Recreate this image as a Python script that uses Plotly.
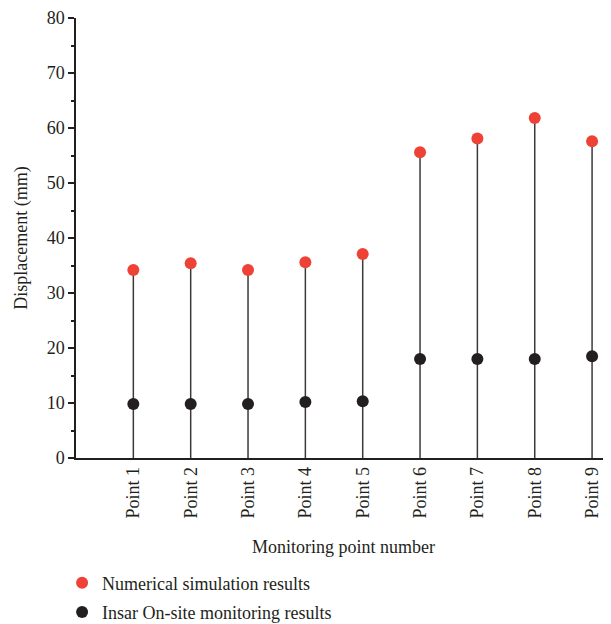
import plotly.graph_objects as go

categories = ["Point 1", "Point 2", "Point 3", "Point 4", "Point 5",
              "Point 6", "Point 7", "Point 8", "Point 9"]
numerical = [34.2, 35.4, 34.2, 35.6, 37.1, 55.6, 58.1, 61.8, 57.6]
insar = [9.8, 9.8, 9.8, 10.2, 10.3, 18.0, 18.0, 18.0, 18.5]
zeros = [0] * len(numerical)

FONT = "Liberation Serif"
FS = 18

fig = go.Figure()
fig.add_trace(go.Scatter(
    x=categories, y=numerical, mode="markers",
    name="Numerical simulation results", legendgroup="a",
    marker=dict(color="#EE4237", size=12),
    error_y=dict(type="data", symmetric=False, array=zeros, arrayminus=numerical,
                 color="#3a3a3a", thickness=1.5, width=0),
))
fig.add_trace(go.Scatter(
    x=categories, y=insar, mode="markers",
    name="Insar On-site monitoring results", legendgroup="b",
    marker=dict(color="#231F20", size=12),
))

fig.update_layout(
    width=603, height=616,
    margin=dict(l=68, r=0, t=10, b=166, autoexpand=False),
    paper_bgcolor="white", plot_bgcolor="white",
    font=dict(family=FONT, size=FS, color="#231F20"),
    showlegend=True,
    legend=dict(orientation="v", x=-0.026, xanchor="left", y=-0.242, yanchor="top",
                font=dict(family=FONT, size=FS, color="#231F20"),
                itemsizing="constant", tracegroupgap=3, bgcolor="rgba(0,0,0,0)"),
    xaxis=dict(
        type="category", range=[-1, 8.33], automargin=False,
        showline=True, linecolor="#231F20", linewidth=1.5,
        ticks="", tickangle=-90, showgrid=False, zeroline=False,
        tickfont=dict(family=FONT, size=FS),
        title=dict(text="Monitoring point number", font=dict(family=FONT, size=FS), standoff=23),
    ),
    yaxis=dict(
        range=[0, 80], dtick=10, automargin=False,
        showline=True, linecolor="#231F20", linewidth=1.5,
        ticks="outside", ticklen=6, tickwidth=1.5, tickcolor="#231F20",
        minor=dict(dtick=5, ticks="outside", ticklen=3, tickwidth=1.5, tickcolor="#231F20"),
        showgrid=False, zeroline=False,
        tickfont=dict(family=FONT, size=FS),
        title=dict(text="Displacement (mm)", font=dict(family=FONT, size=FS), standoff=14),
    ),
)

fig.write_html("out.html")
